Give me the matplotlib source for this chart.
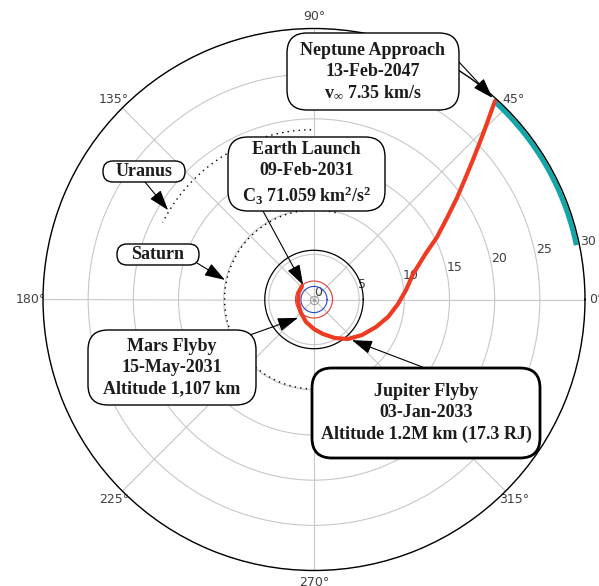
import numpy as np
import matplotlib
matplotlib.use("Agg")
import matplotlib.pyplot as plt
from matplotlib.patches import FancyBboxPatch
from matplotlib.transforms import IdentityTransform

# ------------------------------------------------------------
# Trajectory data (theta in degrees, r in AU)
# ------------------------------------------------------------
traj_theta = [131.6, 157.3, 187.1, 222.8, 250.4, 270.0, 284.6, 298.6,
              310.7, 323.5, 336.1, 346.7, 356.9, 365.9, 374.4, 382.5,
              386.9, 391.5, 395.4, 398.6, 401.3, 403.5, 405.25, 406.65,
              407.64]
traj_r = [2.00, 1.86, 1.78, 2.04, 2.64, 3.27, 3.95, 4.86,
          5.77, 6.61, 7.51, 8.42, 9.31, 10.24, 11.32, 13.42,
          15.27, 17.27, 19.41, 21.39, 23.42, 25.33, 27.05, 28.54,
          29.74]

# planet orbits: radius (AU) and drawn angular span (deg)
earth_orbit = 1.45
mars_orbit = 2.05
jupiter_orbit = 5.45
saturn_arc = (9.9, 76.0, 272.0)
uranus_arc = (18.8, 91.0, 153.0)
neptune_arc = (29.65, 11.7, 47.5)

r_ticks = [0, 5, 10, 15, 20, 25, 30]
theta_ticks = [0, 45, 90, 135, 180, 225, 270, 315]
theta_labels = ["0°", "45°", "90°", "135°", "180°", "225°", "270°", "315°"]

# callouts: text lines, event position (theta deg, r AU)
callouts = [
    (["Neptune Approach", "13-Feb-2047", r"v$_{\infty}$ 7.35 km/s"], (48.5, 29.8)),
    (["Earth Launch", "09-Feb-2031", r"C$_3$ 71.059 km$^2$/s$^2$"], (127.0, 2.0)),
    (["Uranus"], (148.5, 18.95)),
    (["Saturn"], (167.6, 10.1)),
    (["Mars Flyby", "15-May-2031", "Altitude 1,107 km"], (229.0, 2.7)),
    (["Jupiter Flyby", "03-Jan-2033", "Altitude 1.2M km (17.3 RJ)"], (313.0, 6.15)),
]

# box geometry in image pixels: left, top, right, bottom, arrow tail, edge width
box_layout = [
    (287, 33, 459, 110, (459, 62), 1.0),
    (228, 137, 385, 211, (263, 211), 1.0),
    (103, 161, 185, 182, (145, 182), 1.0),
    (117, 244, 199, 265, (197, 263), 1.0),
    (88, 330, 256, 405, (247, 336), 1.0),
    (312, 368, 540, 458, (425, 368), 2.0),
]

W, H = 599, 586

plt.rcParams.update({
    "mathtext.fontset": "custom",
    "mathtext.rm": "Liberation Serif:bold",
    "mathtext.it": "Liberation Serif:bold",
    "mathtext.bf": "Liberation Serif:bold",
})

fig = plt.figure(figsize=(W / 100, H / 100), dpi=100)
cx, cy, rad = 314, 299.5, 271
ax = fig.add_axes([(cx - rad) / W, (H - cy - rad) / H, 2 * rad / W, 2 * rad / H],
                  projection="polar")

ax.set_ylim(0, 30)
ax.set_yticks(r_ticks)
ax.set_yticklabels([str(t) for t in r_ticks], fontsize=9, color="#404040")
ax.set_rlabel_position(11)
ax.set_thetagrids(theta_ticks, theta_labels, fontsize=9, color="#404040")
ax.tick_params(axis="x", pad=-2)
ax.grid(True, color="#c8c8c8", linewidth=0.8)
ax.spines["polar"].set_color("black")
ax.spines["polar"].set_linewidth(1.0)


def orbit(r, t0=0.0, t1=360.0):
    th = np.deg2rad(np.linspace(t0, t1, 400))
    return th, np.full_like(th, r)


# planet orbits
ax.plot(*orbit(earth_orbit), color="#2a46c8", lw=0.8)
ax.plot(*orbit(mars_orbit), color="#e03a3a", lw=0.8)
ax.plot(*orbit(jupiter_orbit), color="black", lw=0.9)
ax.plot(*orbit(*saturn_arc), color="black", lw=1.0, ls=(0, (1, 3)))
ax.plot(*orbit(*uranus_arc), color="black", lw=1.0, ls=(0, (1, 3)))
ax.plot(*orbit(*neptune_arc), color="#12a6a8", lw=3.5, solid_capstyle="butt")

# sun
ax.plot([0], [0], marker="o", ms=6, mfc="none", mec="#a0a0a0", mew=0.8)
ax.plot([0], [0], marker="o", ms=1.5, color="#a0a0a0")

# spacecraft trajectory
ax.plot(np.deg2rad(traj_theta), traj_r, color="#ee3b22", lw=3,
        solid_capstyle="round", solid_joinstyle="round")

# callout boxes with arrows
for (lines, (th, r)), (x0, y0, x1, y1, tail, lw) in zip(callouts, box_layout):
    box = FancyBboxPatch((x0, H - y1), x1 - x0, y1 - y0,
                         boxstyle="round,pad=0,rounding_size=%d" % min(20, (y1 - y0) // 2),
                         transform=IdentityTransform(), facecolor="white",
                         edgecolor="black", linewidth=lw, zorder=5)
    fig.add_artist(box)
    fig.text((x0 + x1) / 2 / W, 1 - (y0 + y1) / 2 / H, "\n".join(lines),
             ha="center", va="center", family="Liberation Serif",
             weight="bold", fontsize=13, linespacing=1.32, color="#1c1c1c",
             zorder=6)
    ax.annotate("", xy=(np.deg2rad(th), r), xycoords="data",
                xytext=(tail[0], H - tail[1]), textcoords="figure pixels",
                annotation_clip=False,
                arrowprops=dict(arrowstyle="-|>,head_length=0.9,head_width=0.3",
                                color="black", lw=0.8, shrinkA=0, shrinkB=0,
                                mutation_scale=14))

fig.savefig("out.png", dpi=100)
